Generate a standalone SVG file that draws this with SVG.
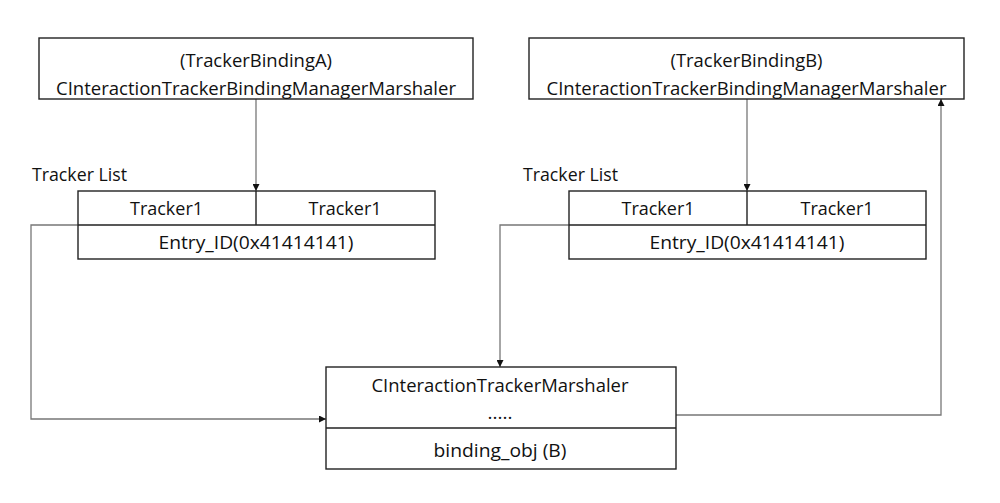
<svg xmlns="http://www.w3.org/2000/svg" width="1000" height="503" viewBox="0 0 1000 503">
<style>
.box{fill:#fff;stroke:#222;stroke-width:1.4}
.ln{fill:none;stroke:#222;stroke-width:1.4}
.con{fill:none;stroke:#777;stroke-width:1.3}
text{font-family:"Open Sans","Noto Sans","Liberation Sans",sans-serif;font-size:19px;fill:#111;font-variant-ligatures:none}
.c{text-anchor:middle}
</style>
<defs>
<marker id="ah" viewBox="0 0 10 10" refX="10" refY="5" markerWidth="7" markerHeight="7" markerUnits="userSpaceOnUse" orient="auto">
<path d="M0,0 L10,5 L0,10 z" fill="#111"/>
</marker>
</defs>
<rect width="1000" height="503" fill="#fff"/>
<g id="connectors">
<path class="con" d="M256,99 V191" marker-end="url(#ah)"/>
<path class="con" d="M747,99 V191" marker-end="url(#ah)"/>
<path class="con" d="M78,225 H31 V419 H326" marker-end="url(#ah)"/>
<path class="con" d="M569,225 H500 V367" marker-end="url(#ah)"/>
<path class="con" d="M676,415 H941 V99" marker-end="url(#ah)"/>
</g>
<g id="bindingA">
<rect class="box" x="39" y="38" width="434" height="61"/>
<text class="c" x="256" y="67" textLength="152" lengthAdjust="spacingAndGlyphs">(TrackerBindingA)</text>
<text class="c" x="256" y="95" textLength="400" lengthAdjust="spacingAndGlyphs">CInteractionTrackerBindingManagerMarshaler</text>
</g>
<g id="bindingB">
<rect class="box" x="529" y="38" width="435" height="61"/>
<text class="c" x="746.5" y="67" textLength="152" lengthAdjust="spacingAndGlyphs">(TrackerBindingB)</text>
<text class="c" x="746.5" y="95" textLength="400" lengthAdjust="spacingAndGlyphs">CInteractionTrackerBindingManagerMarshaler</text>
</g>
<g id="listA">
<text x="32" y="181" textLength="95" lengthAdjust="spacingAndGlyphs">Tracker List</text>
<rect class="box" x="78" y="191" width="357" height="68"/>
<path class="ln" d="M78,225 H435 M256,191 V225"/>
<text class="c" x="166.5" y="215" textLength="73" lengthAdjust="spacingAndGlyphs">Tracker1</text>
<text class="c" x="345" y="215" textLength="73" lengthAdjust="spacingAndGlyphs">Tracker1</text>
<text class="c" x="256" y="249" textLength="195" lengthAdjust="spacingAndGlyphs">Entry_ID(0x41414141)</text>
</g>
<g id="listB">
<text x="523" y="181" textLength="95" lengthAdjust="spacingAndGlyphs">Tracker List</text>
<rect class="box" x="569" y="191" width="357" height="68"/>
<path class="ln" d="M569,225 H926 M747,191 V225"/>
<text class="c" x="658" y="215" textLength="73" lengthAdjust="spacingAndGlyphs">Tracker1</text>
<text class="c" x="837" y="215" textLength="73" lengthAdjust="spacingAndGlyphs">Tracker1</text>
<text class="c" x="747" y="249" textLength="195" lengthAdjust="spacingAndGlyphs">Entry_ID(0x41414141)</text>
</g>
<g id="marshaler">
<rect class="box" x="326" y="367" width="350" height="102"/>
<path class="ln" d="M326,428 H676"/>
<text class="c" x="500" y="392" textLength="257" lengthAdjust="spacingAndGlyphs">CInteractionTrackerMarshaler</text>
<text class="c" x="500" y="419">.....</text>
<text class="c" x="500" y="457" textLength="133" lengthAdjust="spacingAndGlyphs">binding_obj (B)</text>
</g>
</svg>
